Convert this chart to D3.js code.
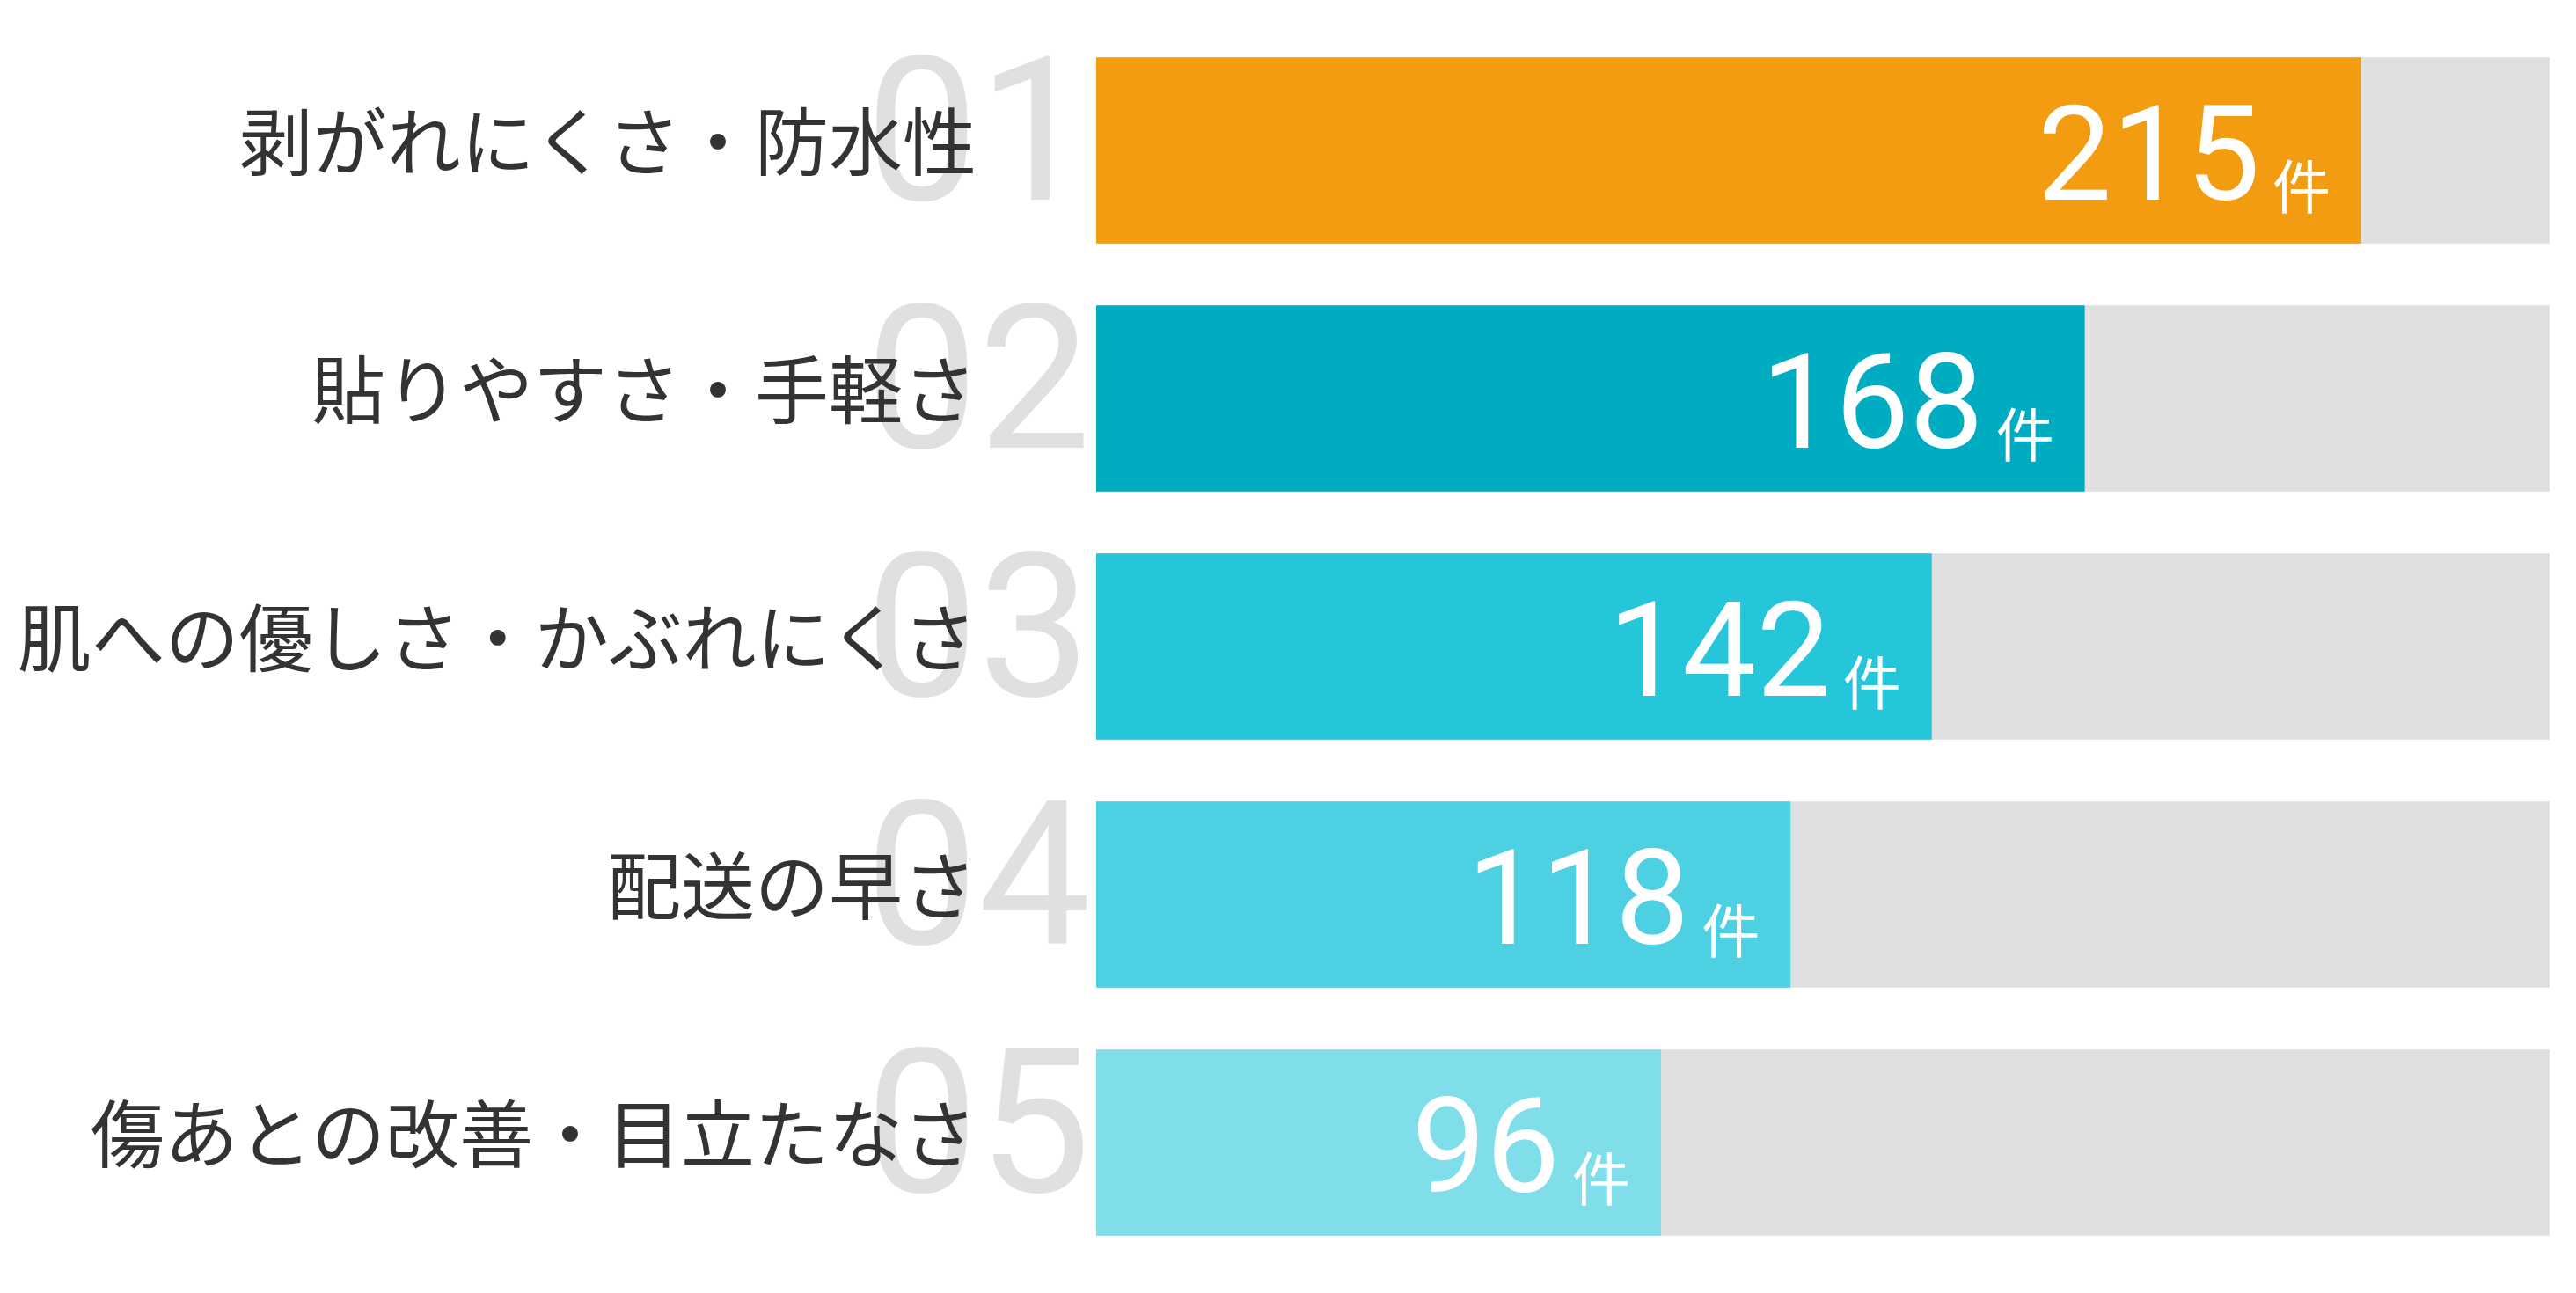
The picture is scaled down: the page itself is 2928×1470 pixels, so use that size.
<!DOCTYPE html>
<html lang="ja">
<head>
<meta charset="utf-8">
<script src="https://cdn.jsdelivr.net/npm/d3@7"></script>
<style>
  html, body { margin: 0; padding: 0; background: #fff; }
  svg { display: block; }
</style>
</head>
<body>
<svg id="chart"></svg>
<script>
// data
const categories = [
  "剥がれにくさ・防水性",
  "貼りやすさ・手軽さ",
  "肌への優しさ・かぶれにくさ",
  "配送の早さ",
  "傷あとの改善・目立たなさ"
];
const counts = [215, 168, 142, 118, 96];
const ranks = ["01", "02", "03", "04", "05"];
const unit = "件";
const trackMax = 247;
const barColors = ["#f39c12", "#00acc1", "#26c6da", "#4dd0e1", "#80deea"];

const W = 2928, H = 1470;
const svg = d3.select("#chart").attr("width", W).attr("height", H);

const x = d3.scaleLinear().domain([0, trackMax]).range([1246, 2898]);
const y = d3.scaleBand()
  .domain(categories)
  .range([30, 1440])
  .paddingInner(0.25)
  .paddingOuter(0.125);

const rows = categories.map((c, i) => ({
  cat: c, value: counts[i], rank: ranks[i], color: barColors[i]
}));

const g = svg.selectAll("g.row")
  .data(rows)
  .enter()
  .append("g")
  .attr("class", "row");

// big rank numbers behind the labels
g.append("text")
  .attr("x", 1240)
  .attr("y", (d) => y(d.cat) + 162)
  .attr("text-anchor", "end")
  .attr("fill", "#e0e0e0")
  .style("font-family", "Roboto, sans-serif")
  .style("font-weight", 400)
  .style("font-size", "228px")
  .text((d) => d.rank);

// category labels
g.append("text")
  .attr("x", 1110)
  .attr("y", (d) => y(d.cat) + y.bandwidth() / 2 + 22)
  .attr("text-anchor", "end")
  .attr("fill", "#333333")
  .style("font-family", "'Noto Sans CJK JP', sans-serif")
  .style("font-weight", 400)
  .style("font-size", "84px")
  .text((d) => d.cat);

// grey track
g.append("rect")
  .attr("x", x(0))
  .attr("y", (d) => y(d.cat))
  .attr("width", x(trackMax) - x(0))
  .attr("height", y.bandwidth())
  .attr("fill", "#e0e0e0");

// value bar
g.append("rect")
  .attr("x", x(0))
  .attr("y", (d) => y(d.cat))
  .attr("width", (d) => x(d.value) - x(0))
  .attr("height", y.bandwidth())
  .attr("fill", (d) => d.color);

// value label + unit
const lab = g.append("text")
  .attr("x", (d) => x(d.value) - 35)
  .attr("y", (d) => y(d.cat) + y.bandwidth() / 2 + 56)
  .attr("text-anchor", "end")
  .attr("fill", "#ffffff")
  .style("font-family", "Roboto, sans-serif")
  .style("font-weight", 400);

lab.append("tspan")
  .style("font-size", "150px")
  .text((d) => d.value);

lab.append("tspan")
  .attr("dx", 14)
  .attr("dy", 10)
  .style("font-family", "'Noto Sans CJK JP', sans-serif")
  .style("font-size", "66px")
  .text(unit);
</script>
</body>
</html>
